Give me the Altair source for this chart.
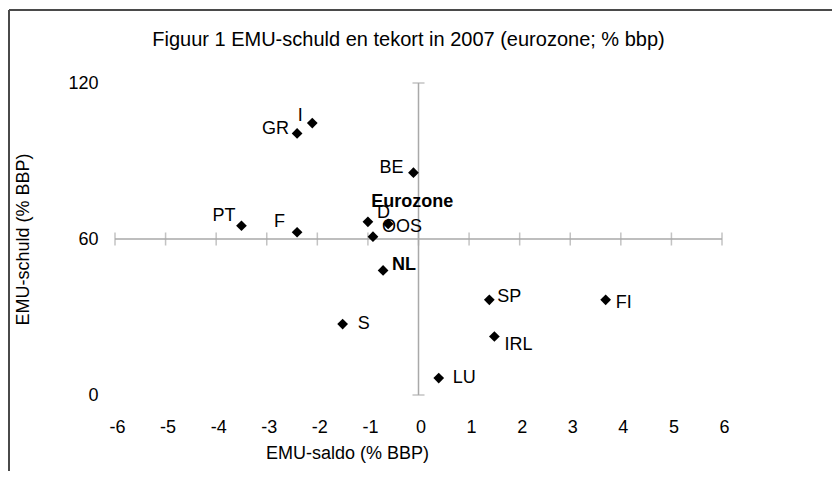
import altair as alt
import pandas as pd

# ---- data ----
land = ["GR", "I", "BE", "PT", "F", "D", "Eurozone", "OOS", "NL", "SP", "FI", "S", "IRL", "LU"]
emu_saldo = [-2.4, -2.1, -0.1, -3.5, -2.4, -1.0, -0.6, -0.9, -0.7, 1.4, 3.7, -1.5, 1.5, 0.4]
emu_schuld = [100.6, 104.6, 85.5, 65.1, 62.6, 66.6, 65.8, 60.9, 47.9, 36.6, 36.6, 27.3, 22.5, 6.5]
x_ticks = [-6, -5, -4, -3, -2, -1, 0, 1, 2, 3, 4, 5, 6]
y_ticks = [0, 60, 120]

# label placement (align, dx, dy, bold)
label_style = {
    "GR": ("right", -8, -4, False),
    "I": ("center", -12, -7, False),
    "BE": ("right", -10, -5, False),
    "PT": ("right", -6, -10, False),
    "F": ("right", -12, -10, False),
    "D": ("left", 9, -9, False),
    "Eurozone": ("center", 24, -22, True),
    "OOS": ("left", 9, -10, False),
    "NL": ("left", 9, -5, True),
    "SP": ("left", 8, -3, False),
    "FI": ("left", 10, 3, False),
    "S": ("left", 15, 0, False),
    "IRL": ("left", 10, 8, False),
    "LU": ("left", 14, 0, False),
}

FONT = "Liberation Sans"
FS = 18
AXIS_GRAY = "#a9a9a9"

df = pd.DataFrame({"land": land, "saldo": emu_saldo, "schuld": emu_schuld})

xscale = alt.Scale(domain=[-6, 6], nice=False, zero=False)
yscale = alt.Scale(domain=[0, 120], nice=False, zero=False)

x_enc = alt.X(
    "saldo:Q", scale=xscale,
    axis=alt.Axis(
        values=x_ticks, domain=False, ticks=False, grid=False, labelFlush=False,
        labelPadding=23, labelOffset=2, labelFontSize=FS, labelFont=FONT, labelColor="black",
        labelExpr="'' + datum.value",
        title="EMU-saldo (% BBP)", titleFont=FONT, titleFontSize=FS,
        titleFontWeight="normal", titleColor="black",
        titleX=232, titleY=58, titleAlign="center", titleBaseline="middle",
    ),
)
y_enc = alt.Y(
    "schuld:Q", scale=yscale,
    axis=alt.Axis(
        values=y_ticks, domain=False, ticks=False, grid=False, labelFlush=False,
        labelPadding=17, labelFontSize=FS, labelFont=FONT, labelColor="black",
        title="EMU-schuld (% BBP)", titleFont=FONT, titleFontSize=FS,
        titleFontWeight="normal", titleColor="black",
        titleX=-92, titleY=156, titleAngle=-90, titleAlign="center", titleBaseline="middle",
    ),
)

one = pd.DataFrame({"a": [0]})

# axis lines crossing at (0, 60)
xaxis_df = pd.DataFrame({"x": [x_ticks[0]], "x2": [x_ticks[-1]], "y": [60]})
yaxis_df = pd.DataFrame({"x": [0], "y": [y_ticks[0]], "y2": [y_ticks[-1]]})

xline = alt.Chart(xaxis_df).mark_rule(color=AXIS_GRAY, strokeWidth=1.5).encode(
    x=alt.X("x:Q", scale=xscale), x2="x2:Q", y=alt.Y("y:Q", scale=yscale))
yline = alt.Chart(yaxis_df).mark_rule(color=AXIS_GRAY, strokeWidth=1.5).encode(
    x=alt.X("x:Q", scale=xscale), y=alt.Y("y:Q", scale=yscale), y2="y2:Q")

xtick_df = pd.DataFrame({"x": x_ticks, "y": [60] * len(x_ticks)})
xticks_mark = alt.Chart(xtick_df).mark_tick(
    orient="vertical", size=13, thickness=1.5, color=AXIS_GRAY).encode(
    x=alt.X("x:Q", scale=xscale), y=alt.Y("y:Q", scale=yscale))
ytick_df = pd.DataFrame({"x": [0, 0], "y": [y_ticks[0], y_ticks[-1]]})
yticks_mark = alt.Chart(ytick_df).mark_tick(
    orient="horizontal", size=12, thickness=1.5, color=AXIS_GRAY).encode(
    x=alt.X("x:Q", scale=xscale), y=alt.Y("y:Q", scale=yscale))

# outer frame (top and left edges)
frame_top = alt.Chart(one).mark_rule(color="#4a4a4a", strokeWidth=2).encode(
    x=alt.value(-106), x2=alt.value(760), y=alt.value(-73))
frame_left = alt.Chart(one).mark_rule(color="#4a4a4a", strokeWidth=2).encode(
    x=alt.value(-106), y=alt.value(-73), y2=alt.value(420))

base = alt.Chart(df)
points = base.mark_point(shape="diamond", filled=True, size=115, color="black", opacity=1).encode(
    x=x_enc, y=y_enc)

labels = []
for name in land:
    align, dx, dy, bold = label_style[name]
    labels.append(
        base.transform_filter(alt.datum.land == name).mark_text(
            align=align, baseline="middle", dx=dx, dy=dy, font=FONT, fontSize=FS,
            fontWeight="bold" if bold else "normal", color="black",
        ).encode(x=alt.X("saldo:Q", scale=xscale), y=alt.Y("schuld:Q", scale=yscale), text="land:N")
    )

chart = alt.layer(
    frame_top, frame_left, xline, yline, xticks_mark, yticks_mark, points, *labels
).properties(
    width=607, height=312,
    title=alt.TitleParams(
        "Figuur 1 EMU-schuld en tekort in 2007 (eurozone; % bbp)",
        font=FONT, fontSize=20, fontWeight="normal", color="black",
        anchor="middle", frame="group", baseline="alphabetic", offset=-57, dx=-10,
    ),
    autosize=alt.AutoSizeParams(type="none"),
    padding={"left": 107, "top": 75, "right": 110, "bottom": 76},
    background="white",
).configure_view(stroke=None)

chart.save("out.html", embed_options={"renderer": "svg", "actions": False})
